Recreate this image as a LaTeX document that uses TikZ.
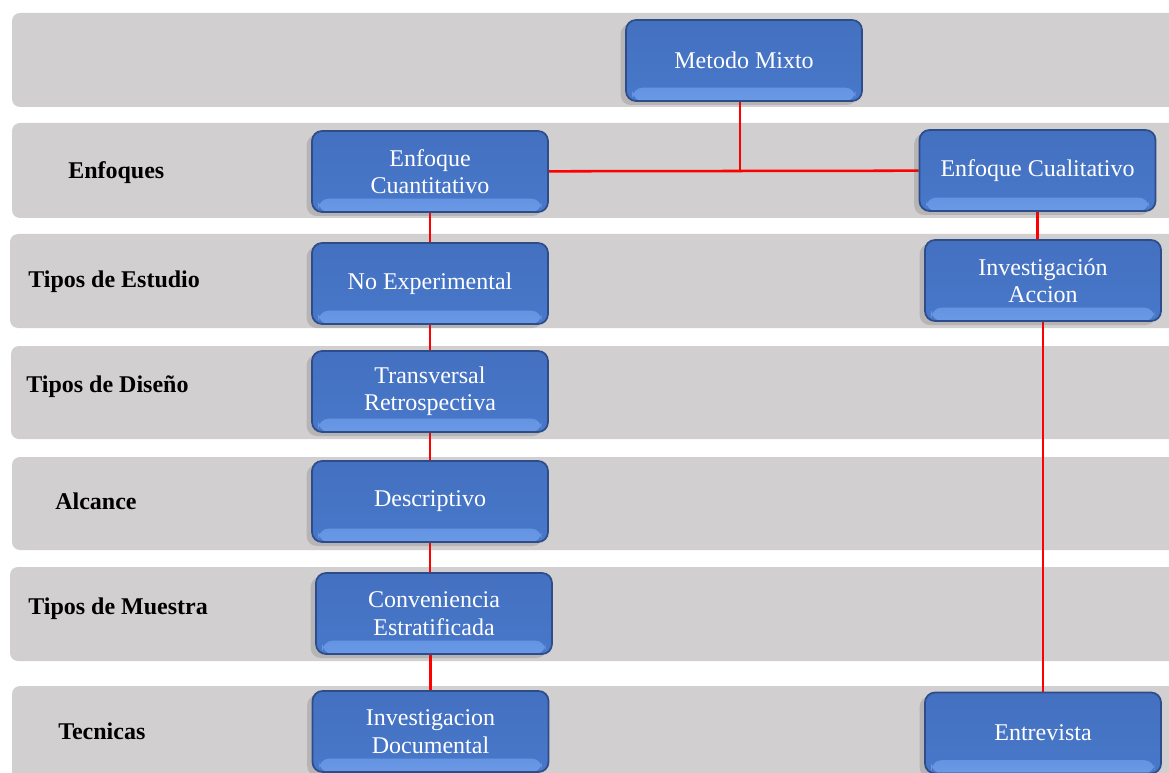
\documentclass[tikz,border=0pt]{standalone}
\usepackage{fontspec}
\setmainfont{Liberation Serif}
\usetikzlibrary{shadows}
\pgfdeclarelayer{bands}
\pgfdeclarelayer{links}
\pgfsetlayers{bands,links,main}
\definecolor{bandgray}{HTML}{D1CFD0}
\definecolor{boxfill}{HTML}{4878CA}
\definecolor{boxtop}{HTML}{4470C0}
\definecolor{boxlight}{HTML}{6A9AE6}
\definecolor{boxborder}{HTML}{2D4C88}
\definecolor{linkred}{HTML}{FF0000}
\tikzset{
  band/.style={fill=bandgray, rounded corners=6pt},
  stepbox/.style={rounded corners=7.5pt, draw=boxborder, line width=1.3pt,
    top color=boxtop, bottom color=boxfill, text=white, align=center,
    minimum width=177pt, minimum height=60.75pt, inner sep=2pt,
    font=\fontsize{18}{20.5}\selectfont,
    drop shadow={shadow xshift=-4pt, shadow yshift=-3pt, opacity=0.2, fill=black!70},
    path picture={\shade[top color=boxfill, bottom color=boxlight]
      ([xshift=5pt,yshift=10pt]path picture bounding box.south west) rectangle
      ([xshift=-5pt]path picture bounding box.south east);}},
  rowlabel/.style={anchor=base west, inner sep=0pt, font=\fontsize{18}{20}\selectfont\bfseries, text=black},
  link/.style={draw=linkred, line width=1.9pt}
}
\begin{document}
\begin{tikzpicture}[x=0.75pt,y=-0.75pt]
\useasboundingbox (0,0) rectangle (1169,773);
% bands
\begin{pgfonlayer}{bands}
\fill[band] (12,13) rectangle (1190,107);
\fill[band] (12,123) rectangle (1190,218);
\fill[band] (10,234) rectangle (1190,328);
\fill[band] (11,346) rectangle (1190,439);
\fill[band] (12,457) rectangle (1190,550);
\fill[band] (10,567) rectangle (1190,661);
\fill[band] (12,686) rectangle (1190,800);
\end{pgfonlayer}
% row labels
\node[rowlabel] (l1) at (68,179) {Enfoques};
\node[rowlabel] (l2) at (28,287) {Tipos de Estudio};
\node[rowlabel] (l3) at (26,392) {Tipos de Diseño};
\node[rowlabel] (l4) at (55,509) {Alcance};
\node[rowlabel] (l5) at (28,614) {Tipos de Muestra};
\node[rowlabel] (l6) at (58,739) {Tecnicas};
% boxes
\node[stepbox] (mm) at (744,60.5) {Metodo Mixto};
\node[stepbox] (eq) at (430,171.5) {Enfoque\\Cuantitativo};
\node[stepbox] (ec) at (1037.5,170.5) {Enfoque Cualitativo};
\node[stepbox] (ne) at (430,283.5) {No Experimental};
\node[stepbox] (ia) at (1043,280.5) {Investigación\\Accion};
\node[stepbox] (tr) at (430,391.5) {Transversal\\Retrospectiva};
\node[stepbox] (de) at (430,501.5) {Descriptivo};
\node[stepbox] (ce) at (434,613.5) {Conveniencia\\Estratificada};
\node[stepbox] (id) at (430.5,731.5) {Investigacion\\Documental};
\node[stepbox] (en) at (1043,733) {Entrevista};
% connectors
\coordinate (j) at (740,171);
\begin{pgfonlayer}{links}
\draw[link] (eq) -- (ec);
\draw[link] (mm.south -| j) -- (j);
\draw[link] (eq) -- (ne);
\draw[link] (ne) -- (tr);
\draw[link] (tr) -- (de);
\draw[link] (de.south) -- (de.south |- ce.north);
\draw[link] (id.north |- ce.south) -- (id.north);
\draw[link] (ec.south) -- (ec.south |- ia.north);
\draw[link] (ia) -- (en);
\end{pgfonlayer}
\end{tikzpicture}
\end{document}
